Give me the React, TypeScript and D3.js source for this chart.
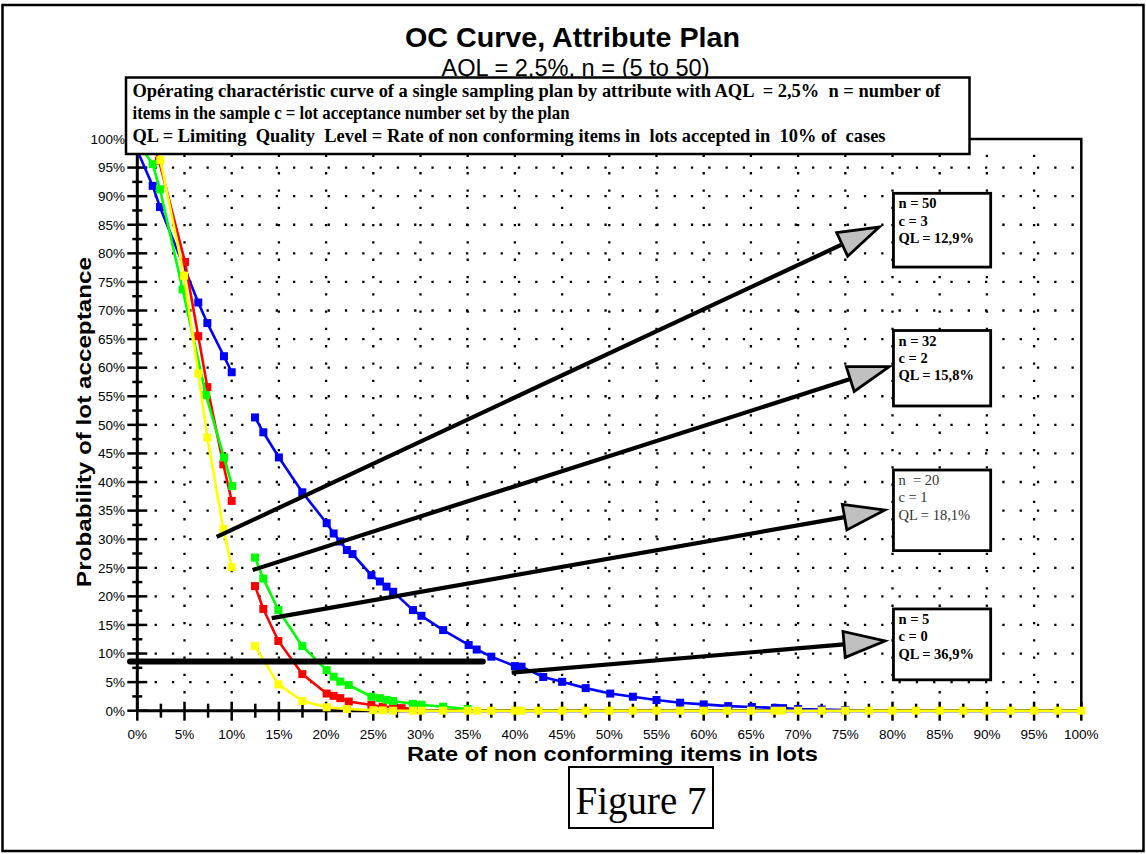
import React from "react";
import * as d3 from "d3";

// ---------- data (percent units) ----------
const MAJOR_TICKS = [0, 5, 10, 15, 20, 25, 30, 35, 40, 45, 50, 55, 60, 65, 70, 75, 80, 85, 90, 95, 100];
const MINOR_TICKS = [2.5, 7.5, 12.5, 17.5, 22.5, 27.5, 32.5, 37.5, 42.5, 47.5, 52.5, 57.5, 62.5, 67.5, 72.5, 77.5, 82.5, 87.5, 92.5, 97.5];
const GRID_LINES = [5, 10, 15, 20, 25, 30, 35, 40, 45, 50, 55, 60, 65, 70, 75, 80, 85, 90, 95];

// n = 50, c = 3
const BLUE_A: [number, number][] = [[0, 98], [1.63, 91.8], [2.4, 88.1], [6.46, 71.4], [7.42, 67.8], [9.18, 62.0], [10.0, 59.2]];
const BLUE_B: [number, number][] = [[12.47, 51.3], [13.35, 48.7], [15.0, 44.3], [17.48, 38.2], [20.06, 32.8], [20.8, 31.0], [21.5, 29.6], [22.2, 28.1], [22.8, 27.4], [24.8, 23.7], [25.7, 22.6], [26.4, 21.7], [27.1, 20.8], [29.2, 17.6], [30.1, 16.6], [32.4, 14.1], [35.1, 11.5], [35.95, 10.7], [37.5, 9.45], [40.0, 7.8], [40.7, 7.7], [43.0, 5.9], [45.0, 5.05], [47.5, 3.95], [50.1, 3.0], [52.5, 2.45], [55.0, 1.87], [57.5, 1.4], [60.0, 1.1], [62.6, 0.8], [65.1, 0.65], [67.55, 0.5], [68.4, 0.45], [70.0, 0.3], [72.5, 0.2], [75.0, 0.1]];
// n = 32, c = 2
const RED_A: [number, number][] = [[1.5, 100], [2.3, 96.2], [5.05, 78.5], [6.46, 65.5], [7.42, 56.6], [9.11, 43.1], [10.0, 36.7]];
const RED_B: [number, number][] = [[12.47, 21.8], [13.35, 17.8], [14.94, 12.2], [17.48, 6.4], [20.06, 3.0], [20.8, 2.6], [21.5, 2.2], [22.4, 1.6], [24.8, 1.0], [26.0, 0.7], [27.1, 0.6], [28.0, 0.45], [30.0, 0.25]];
// n = 20, c = 1
const GREEN_A: [number, number][] = [[0, 99.5], [1.63, 95.6], [2.4, 91.2], [4.8, 73.7], [7.28, 55.2], [9.18, 44.3], [10.06, 39.3]];
const GREEN_B: [number, number][] = [[12.47, 26.8], [13.35, 23.1], [14.94, 17.6], [17.48, 11.3], [20.06, 7.1], [20.8, 5.95], [21.5, 5.1], [22.4, 4.5], [24.8, 2.45], [25.7, 2.2], [26.4, 1.9], [27.1, 1.7], [29.2, 1.2], [30.1, 1.05], [32.4, 0.7], [35.0, 0.3]];
// n = 5, c = 0
const YELLOW_A: [number, number][] = [[1.8, 100], [2.44, 96.3], [4.95, 76.1], [6.46, 59.0], [7.42, 47.8], [9.11, 31.8], [10.0, 25.1]];
const YELLOW_B: [number, number][] = [[12.47, 11.3], [14.94, 4.6], [17.48, 1.7], [20.06, 0.6], [22.2, 0.3], [25.0, 0.1], [26.0, 0.05], [27.1, 0], [29.2, 0], [30.1, 0], [32.4, 0], [35.0, 0], [36.0, 0], [37.5, 0], [40.0, 0], [40.7, 0], [42.5, 0], [45.0, 0], [47.5, 0], [50.0, 0], [52.5, 0], [55.0, 0], [57.5, 0], [60.0, 0], [62.5, 0], [65.0, 0], [67.5, 0], [68.3, 0], [70.0, 0], [72.5, 0], [75.0, 0], [77.5, 0], [80.0, 0], [82.5, 0], [85.0, 0], [87.5, 0], [90.0, 0], [92.5, 0], [95.0, 0], [97.5, 0], [100.0, 0]];

const SERIES_COLORS = ["#0000ff", "#ff0000", "#00ff00", "#ffff00"];
const SERIES_SEGMENTS = [[BLUE_A, BLUE_B], [RED_A, RED_B], [GREEN_A, GREEN_B], [YELLOW_A, YELLOW_B]];

// annotations (data units)
const QL_BAR: [number, number][] = [[-0.77, 8.6], [36.6, 8.6]];
const ARROW_FROM: [number, number][] = [[8.41, 30.4], [12.22, 24.6], [14.24, 16.2], [39.66, 6.65]];
const ARROW_TO: [number, number][] = [[78.6, 84.6], [79.66, 60.2], [79.2, 35.1], [79.2, 12.2]];
const BOX_X: [number, number] = [80.1, 90.4];
const BOX_Y: [number, number][] = [[90.5, 77.6], [66.5, 53.3], [42.1, 28.0], [17.8, 5.4]];
const BOX_LINES = [
  ["n = 50", "c = 3", "QL = 12,9%"],
  ["n = 32", "c = 2", "QL = 15,8%"],
  ["n  = 20", "c = 1", "QL = 18,1%"],
  ["n = 5", "c = 0", "QL = 36,9%"],
];
const BOX_BOLD = [true, true, false, true];

const LEGEND_LINES = [
  "Opérating charactéristic curve of a single sampling plan by attribute with AQL  = 2,5%  n = number of",
  "items in the sample c = lot acceptance number set by the plan",
  "QL = Limiting  Quality  Level = Rate of non conforming items in  lots accepted in  10% of  cases",
];

const SANS = "'Liberation Sans', Arial, sans-serif";
const SERIF = "'Liberation Serif', 'Times New Roman', serif";

export default function App() {
  const W = 1146;
  const H = 854;
  const x = d3.scaleLinear().domain([0, 100]).range([137.3, 1081.3]);
  const y = d3.scaleLinear().domain([0, 100]).range([710.7, 139]);
  const line = d3
    .line<[number, number]>()
    .x((d) => x(d[0]))
    .y((d) => y(d[1]));
  const fmt = (v: number) => `${v}%`;
  const M = 8;

  return (
    <svg
      width={W}
      height={H}
      style={{ position: "absolute", left: 0, top: 0, background: "#fff" }}
    >
      <rect x={0} y={0} width={W} height={H} fill="#fff" />
      {/* outer frame */}
      <rect x={2.5} y={5} width={1141} height={846} fill="none" stroke="#000" strokeWidth={2.5} />

      {/* dotted grid */}
      <g stroke="#000" strokeWidth={2.3} strokeDasharray="2.3 15">
        {GRID_LINES.map((g) => (
          <line key={"v" + g} x1={x(g)} x2={x(g)} y1={y(0)} y2={y(100)} />
        ))}
        {GRID_LINES.map((g) => (
          <line key={"h" + g} x1={x(0)} x2={x(100)} y1={y(g)} y2={y(g)} />
        ))}
      </g>

      {/* plot frame top/right */}
      <path
        d={`M${x(0)},${y(100)}H${x(100)}V${y(0)}`}
        fill="none"
        stroke="#000"
        strokeWidth={2.5}
      />

      {/* y axis */}
      <line x1={x(0)} x2={x(0)} y1={y(0)} y2={y(100)} stroke="#000" strokeWidth={3} />
      {MAJOR_TICKS.map((t) => (
        <g key={"yt" + t}>
          <line x1={x(0) - 10} x2={x(0) + 10} y1={y(t)} y2={y(t)} stroke="#000" strokeWidth={2.5} />
          <text
            x={125}
            y={y(t) + 4.8}
            textAnchor="end"
            fontFamily={SANS}
            fontSize={13.5}
            fill="#000"
          >
            {fmt(t)}
          </text>
        </g>
      ))}
      {MINOR_TICKS.map((t) => (
        <line key={"ym" + t} x1={x(0) - 5} x2={x(0) + 5} y1={y(t)} y2={y(t)} stroke="#000" strokeWidth={2.5} />
      ))}

      {/* x axis */}
      <line x1={x(0)} x2={x(100)} y1={y(0)} y2={y(0)} stroke="#000" strokeWidth={3} />
      {MAJOR_TICKS.map((t) => (
        <g key={"xt" + t}>
          <line x1={x(t)} x2={x(t)} y1={y(0) - 9} y2={y(0) + 10} stroke="#000" strokeWidth={2.5} />
          <text x={x(t)} y={739} textAnchor="middle" fontFamily={SANS} fontSize={13.5} fill="#000">
            {fmt(t)}
          </text>
        </g>
      ))}
      {MINOR_TICKS.map((t) => (
        <line key={"xm" + t} x1={x(t)} x2={x(t)} y1={y(0) - 7} y2={y(0) + 7} stroke="#000" strokeWidth={2.5} />
      ))}

      {/* curves */}
      {SERIES_SEGMENTS.map((segs, si) => (
        <g key={"s" + si}>
          {segs.map((seg, k) => (
            <g key={k}>
              <path d={line(seg) || ""} fill="none" stroke={SERIES_COLORS[si]} strokeWidth={2.6} />
              {seg.map((d, i) => (
                <rect
                  key={i}
                  x={x(d[0]) - M / 2}
                  y={y(d[1]) - M / 2}
                  width={M}
                  height={M}
                  fill={SERIES_COLORS[si]}
                />
              ))}
            </g>
          ))}
        </g>
      ))}

      {/* QL bar */}
      <line
        x1={x(QL_BAR[0][0])}
        y1={y(QL_BAR[0][1])}
        x2={x(QL_BAR[1][0])}
        y2={y(QL_BAR[1][1])}
        stroke="#000"
        strokeWidth={6}
        strokeLinecap="round"
      />

      {/* arrows */}
      {ARROW_FROM.map((f, i) => {
        const x0 = x(f[0]);
        const y0 = y(f[1]);
        const x1 = x(ARROW_TO[i][0]);
        const y1 = y(ARROW_TO[i][1]);
        const len = Math.hypot(x1 - x0, y1 - y0);
        const ux = (x1 - x0) / len;
        const uy = (y1 - y0) / len;
        const mx = x1 - 41 * ux;
        const my = y1 - 41 * uy;
        const nx = -uy;
        const ny = ux;
        const hw = 13;
        return (
          <g key={"a" + i}>
            <line x1={x0} y1={y0} x2={mx} y2={my} stroke="#000" strokeWidth={4.2} />
            <path
              d={`M${x1},${y1}L${mx + hw * nx},${my + hw * ny}L${mx - hw * nx},${my - hw * ny}Z`}
              fill="#c0c0c0"
              stroke="#000"
              strokeWidth={2.8}
              strokeLinejoin="miter"
            />
          </g>
        );
      })}

      {/* annotation boxes */}
      {BOX_Y.map((by, i) => {
        const bx0 = x(BOX_X[0]);
        const bx1 = x(BOX_X[1]);
        const by0 = y(by[0]);
        const by1 = y(by[1]);
        return (
          <g key={"b" + i}>
            <rect
              x={bx0}
              y={by0}
              width={bx1 - bx0}
              height={by1 - by0}
              fill="#fff"
              stroke="#000"
              strokeWidth={2.8}
            />
            {BOX_LINES[i].map((t, j) => (
              <text
                key={j}
                x={bx0 + 5}
                y={by0 + 15 + j * 17.4}
                fontFamily={SERIF}
                fontSize={14.5}
                fontWeight={BOX_BOLD[i] ? "bold" : "normal"}
                fill={BOX_BOLD[i] ? "#000" : "#333"}
                style={{ whiteSpace: "pre" }}
              >
                {t}
              </text>
            ))}
          </g>
        );
      })}

      {/* title & subtitle */}
      <text
        x={405}
        y={47}
        fontFamily={SANS}
        fontSize={28}
        fontWeight="bold"
        textLength={335}
        lengthAdjust="spacingAndGlyphs"
        fill="#000"
      >
        OC Curve, Attribute Plan
      </text>
      <text
        x={441.5}
        y={76}
        fontFamily={SANS}
        fontSize={23}
        textLength={268}
        lengthAdjust="spacingAndGlyphs"
        fill="#000"
      >
        AQL = 2,5%, n = (5 to 50)
      </text>

      {/* legend box */}
      <rect x={126} y={77.5} width={843.5} height={76.5} fill="#fff" stroke="#000" strokeWidth={2.5} />
      <text
        x={132.5}
        y={97.3}
        fontFamily={SERIF}
        fontSize={18.5}
        fontWeight="bold"
        textLength={808}
        lengthAdjust="spacingAndGlyphs"
        style={{ whiteSpace: "pre" }}
        fill="#000"
      >
        {LEGEND_LINES[0]}
      </text>
      <text
        x={132.5}
        y={119.3}
        fontFamily={SERIF}
        fontSize={18.5}
        fontWeight="bold"
        textLength={437}
        lengthAdjust="spacingAndGlyphs"
        style={{ whiteSpace: "pre" }}
        fill="#000"
      >
        {LEGEND_LINES[1]}
      </text>
      <text
        x={132.5}
        y={141.7}
        fontFamily={SERIF}
        fontSize={18.5}
        fontWeight="bold"
        textLength={753}
        lengthAdjust="spacingAndGlyphs"
        style={{ whiteSpace: "pre" }}
        fill="#000"
      >
        {LEGEND_LINES[2]}
      </text>

      {/* axis titles */}
      <text
        x={407}
        y={761}
        fontFamily={SANS}
        fontSize={21}
        fontWeight="bold"
        textLength={411}
        lengthAdjust="spacingAndGlyphs"
        fill="#000"
      >
        Rate of non conforming items in lots
      </text>
      <text
        transform="translate(91,587) rotate(-90)"
        x={0}
        y={0}
        fontFamily={SANS}
        fontSize={21}
        fontWeight="bold"
        textLength={330}
        lengthAdjust="spacingAndGlyphs"
        fill="#000"
      >
        Probability of lot acceptance
      </text>

      {/* Figure label */}
      <rect x={569} y={767} width={144} height={61} fill="#fff" stroke="#000" strokeWidth={2} />
      <text x={641} y={814} textAnchor="middle" fontFamily={SERIF} fontSize={39} fill="#000">
        Figure 7
      </text>
    </svg>
  );
}
